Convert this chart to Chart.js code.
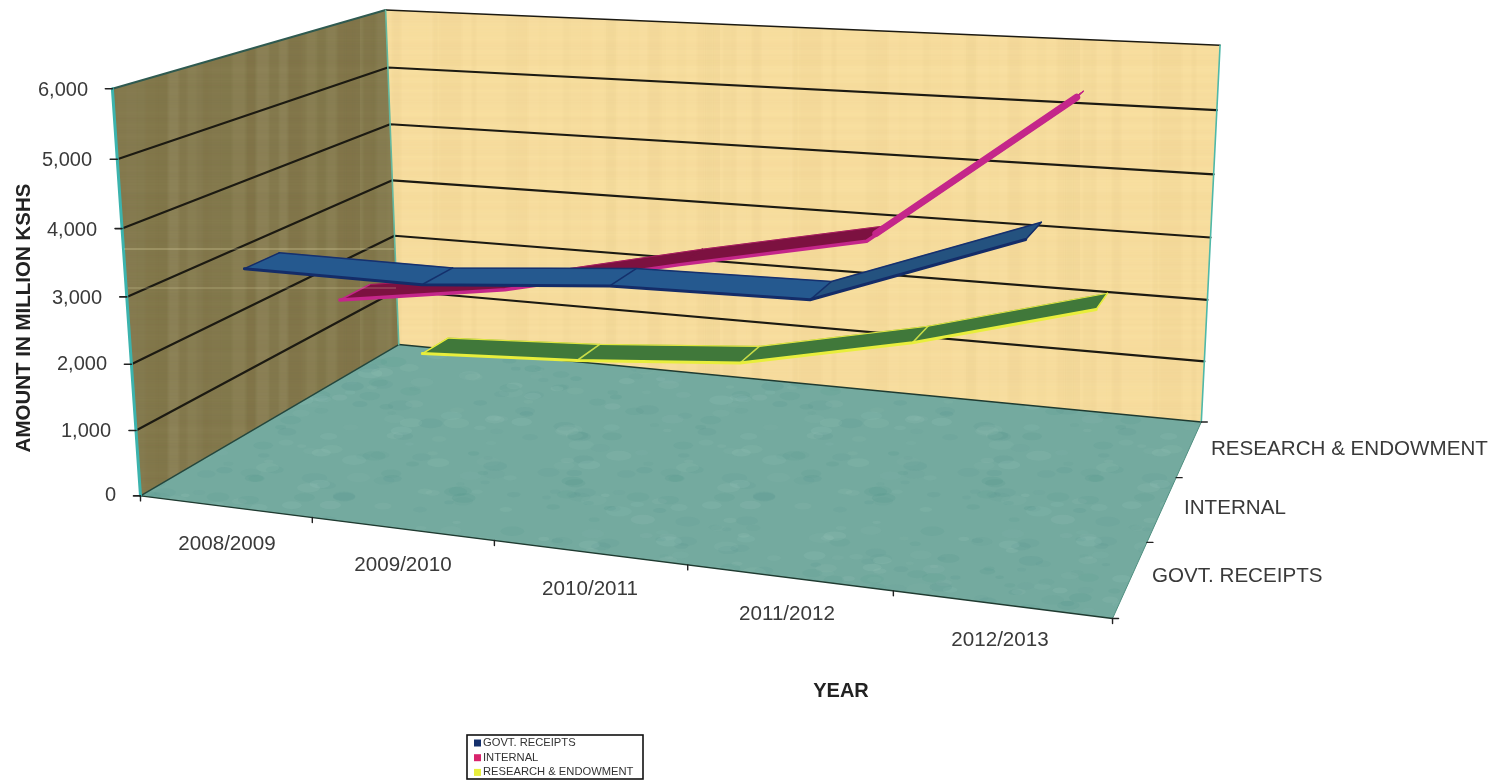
<!DOCTYPE html>
<html><head><meta charset="utf-8">
<style>html,body{margin:0;padding:0;background:#fff;overflow:hidden}canvas{display:block}</style>
<script src="https://cdn.jsdelivr.net/npm/chart.js@4"></script>
</head><body><canvas id="c" width="1493" height="781"></canvas>
<script>
const categories=["2008/2009","2009/2010","2010/2011","2011/2012","2012/2013"];
const seriesNames=["GOVT. RECEIPTS","INTERNAL","RESEARCH & ENDOWMENT"];
const govtReceipts=[3310,3300,3510,3550,4570];
const internalFunds=[2135,2530,3140,3700,5830];
const researchEndowment=[490,630,850,1440,2215];
const valueTicks=[0,1000,2000,3000,4000,5000,6000];
const valueMax=6000;

// camera fit: world (u along years, v height, d depth) -> reference picture
const fitPts=[[0,0,0,141,495],[0,1,0,112,88],[0,0,1,398,345],[0,1,1,386,10],[1,0,1,1201,421],[1,1,1,1220,46],[1,0,0,1113,618],
 [.2,0,0,313,518],[.4,0,0,495,541],[.6,0,0,688,566],[.8,0,0,890,592],[1,0,1/3,1148,541],[1,0,2/3,1177,478]];
function solveCam(){
  const A=[],b=[];
  for(const [u,v,d,x,y] of fitPts){
    A.push([u,v,d,1,0,0,0,0,-x*u,-x*v,-x*d]);b.push(x);
    A.push([0,0,0,0,u,v,d,1,-y*u,-y*v,-y*d]);b.push(y);
  }
  const n=11,M=[];
  for(let i=0;i<n;i++){M[i]=new Array(n+1).fill(0);
    for(let r=0;r<A.length;r++){for(let j=0;j<n;j++)M[i][j]+=A[r][i]*A[r][j];M[i][n]+=A[r][i]*b[r];}}
  for(let c=0;c<n;c++){let p=c;for(let r=c+1;r<n;r++)if(Math.abs(M[r][c])>Math.abs(M[p][c]))p=r;
    [M[c],M[p]]=[M[p],M[c]];
    for(let r=0;r<n;r++)if(r!==c){const f=M[r][c]/M[c][c];for(let j=c;j<=n;j++)M[r][j]-=f*M[c][j];}}
  return M.map((row,i)=>row[n]/row[i]);
}
const K=solveCam();
function P(u,v,d){const w=K[8]*u+K[9]*v+K[10]*d+1;
  return {x:(K[0]*u+K[1]*v+K[2]*d+K[3])/w,y:(K[4]*u+K[5]*v+K[6]*d+K[7])/w};}
const V=val=>val/valueMax;
const U=i=>(i+.5)/categories.length;

// textures (deterministic, seamless tiles)
function hash(a,b){const s=Math.sin(a*12.9898+b*78.233)*43758.5453;return s-Math.floor(s);}
function texture(base,kind){
  const W=kind==='floor'?420:360;
  const c=document.createElement('canvas');c.width=c.height=W;const g=c.getContext('2d');
  g.fillStyle=base;g.fillRect(0,0,W,W);
  if(kind==='floor'){
    for(let i=0;i<560;i++){
      const x=hash(i,1)*W,y=hash(i,2)*W,r=4+hash(i,3)*9,dark=hash(i,4)<.55;
      g.fillStyle=dark?`rgba(62,135,130,${.04+hash(i,5)*.08})`:`rgba(165,205,195,${.05+hash(i,5)*.10})`;
      for(const ox of [-W,0,W])for(const oy of [-W,0,W]){
        g.beginPath();g.ellipse(x+ox,y+oy,r,r*.4,0,0,7);g.fill();}
    }
  }else{
    g.filter='blur(1.2px)';
    for(let x=-6;x<W+6;){const w=3+Math.floor(hash(x,7)*12);
      const dark=hash(x,8)<.5,a=hash(x,9)*(kind==='left'?.07:.03);
      g.fillStyle=dark?`rgba(90,60,10,${a})`:`rgba(255,250,220,${a})`;g.fillRect(x,-4,w,W+8);x+=w;}
    for(let y=0;y<W;y+=3){g.fillStyle=`rgba(${kind==='left'?'60,50,20':'190,140,50'},${hash(y,11)*.05})`;g.fillRect(-4,y,W+8,2);}
    g.filter='none';
  }
  return g.createPattern(c,'repeat');
}

const ds=[];
function poly(pts,fillC,line,w){
  const closed=pts.concat([pts[0]]);
  ds.push({data:closed,showLine:true,fill:'shape',backgroundColor:fillC,borderColor:line||'transparent',borderWidth:w||0,
    pointRadius:0,tension:0,borderJoinStyle:'round',clip:false});
}
function line(pts,color,w,extra){
  ds.push(Object.assign({data:pts,showLine:true,fill:false,borderColor:color,borderWidth:w,pointRadius:0,tension:0,
    borderJoinStyle:'round',borderCapStyle:'round',clip:false},extra||{}));
}
const off=(p,dx,dy)=>({x:p.x+dx,y:p.y+dy});

// walls
poly([P(0,0,0),P(0,1,0),P(0,1,1),P(0,0,1)],texture('#867b4f','left'));
poly([P(0,0,1),P(0,1,1),P(1,1,1),P(1,0,1)],texture('#f8dfa0','back'));
poly([P(0,0,0),P(0,0,1),P(1,0,1),P(1,0,0)],texture('#74aa9f','floor'));

// gridlines on the walls
valueTicks.forEach(t=>{
  if(t===0||t===valueMax)return;
  const v=V(t);
  line([P(0,v,0),P(0,v,1),P(1,v,1)],'#1c1a12',2.2);
});
line([P(0,1,0),P(0,1,1)],'#2f5a50',2);
line([P(0,1,1),P(1,1,1)],'#1c1a12',1.6);
// box edges
line([P(0,0,0),P(0,0,1)],'#24463c',1.5);
line([P(0,0,1),P(1,0,1)],'#1f3a30',1.5);
line([P(0,0,0),P(1,0,0)],'#1f3a30',1.5);
line([P(1,0,1),P(1,0,0)],'#4f8f80',1);
line([P(0,0,0),P(0,1,0)],'#3cb3ad',3);
line([P(0,0,1),P(0,1,1)],'#63b8a0',1.6);
line([P(1,0,1),P(1,1,1)],'#4fb8a8',1.6);
// tick marks
valueTicks.forEach(t=>{const p=P(0,V(t),0);line([off(p,-7,0),p],'#222',1.6);});
categories.concat(['']).forEach((_,i)=>{const p=P(i/categories.length,0,0);line([p,off(p,0,5)],'#222',1.4);});
seriesNames.concat(['']).forEach((_,i)=>{const p=P(1,0,i/seriesNames.length);line([p,off(p,6,0)],'#222',1.4);});

// ribbons
const halfW=.06;
function ribbon(vals,depth,o){
  const f=vals.map((val,i)=>P(U(i),V(val),depth-halfW));
  const b=vals.map((val,i)=>P(U(i),V(val),depth+halfW));
  for(let i=0;i<vals.length-1;i++){
    const col=o.segFill&&o.segFill[i]?o.segFill[i]:o.fill;
    poly([f[i],f[i+1],b[i+1],b[i]],col,col,.5);
    if(i>0)line([f[i],b[i]],o.divider,1.6);
  }
  line(b,o.back,o.backW);
  line(f,o.front,o.frontW);
  line([f[0],b[0]],o.front,o.endW||1.5);
  line([f[vals.length-1],b[vals.length-1]],o.front,o.endW||1.5);
  if(o.riseW){const n=vals.length-1;
    line([P(U(n-1),V(vals[n-1]),depth),P(U(n),V(vals[n]),depth)],o.front,o.riseW);}
}
ribbon(researchEndowment,5/6,{fill:'#40783a',divider:'#c8dc48',front:'#e8ee3c',frontW:3,back:'#dfe640',backW:1.2});
ribbon(internalFunds,3/6,{fill:'#7c1140',segFill:[0,0,0,'#b9267f'],divider:'#7c1140',front:'#c4268a',frontW:3.5,back:'#a81a60',backW:1,riseW:7});
ribbon(govtReceipts,1/6,{fill:'#25598f',segFill:[0,0,0,'#24527f'],divider:'#14306c',front:'#142c68',frontW:3,back:'#16306e',backW:1.5});

// pale scan streaks across the left wall
line([{x:124,y:249},{x:394,y:249}],'rgba(225,215,165,.55)',1.2,{borderCapStyle:'butt'});
line([{x:128,y:288},{x:396,y:288}],'rgba(225,215,165,.4)',1.2,{borderCapStyle:'butt'});

ds.reverse();

const textPlugin={id:'texts',afterDraw(ch){
  const g=ch.ctx;g.save();
  const F='"Liberation Sans",Arial,sans-serif';
  g.fillStyle='#3a3a3a';g.textBaseline='middle';
  g.font='20px '+F;g.textAlign='right';
  const yRight=[116,111,107,102,97,92,88],yMid=[495,431,364,298,230,160,90];
  valueTicks.forEach((t,i)=>g.fillText(t.toLocaleString('en-US'),yRight[i],yMid[i]));
  g.font='20.6px '+F;g.textAlign='center';
  const catX=[227,403,590,787,1000],catY=[544,565,589,614,640];
  categories.forEach((t,i)=>g.fillText(t,catX[i],catY[i]));
  g.textAlign='left';
  const sx=[1152,1184,1211],sy=[576,508,449];
  seriesNames.forEach((t,i)=>g.fillText(t,sx[i],sy[i]));
  g.fillStyle='#222';g.font='bold 20px '+F;g.textAlign='center';
  g.fillText('YEAR',841,691);
  g.font='bold 20.5px '+F;
  g.save();g.translate(24,318);g.rotate(-Math.PI/2);g.fillText('AMOUNT IN MILLION KSHS',0,0);g.restore();
  // legend
  g.strokeStyle='#111';g.lineWidth=1.6;g.fillStyle='#fff';g.fillRect(467,735,176,44);g.strokeRect(467,735,176,44);
  const sw=['#14306c','#d8246c','#e8ee3c'];
  g.font='11.2px '+F;g.textAlign='left';
  seriesNames.forEach((t,i)=>{const y=743+i*14.7;g.fillStyle=sw[i];g.fillRect(474,y-3.5,7,7);g.fillStyle='#333';g.fillText(t,483,y);});
  g.restore();
}};

new Chart(document.getElementById('c'),{type:'scatter',data:{datasets:ds},plugins:[textPlugin],options:{
  responsive:false,animation:false,devicePixelRatio:1,layout:{padding:0},
  plugins:{legend:{display:false},tooltip:{enabled:false},title:{display:false}},
  scales:{x:{type:'linear',display:false,min:0,max:1493},y:{type:'linear',display:false,min:0,max:781,reverse:true}}
}});
</script></body></html>
